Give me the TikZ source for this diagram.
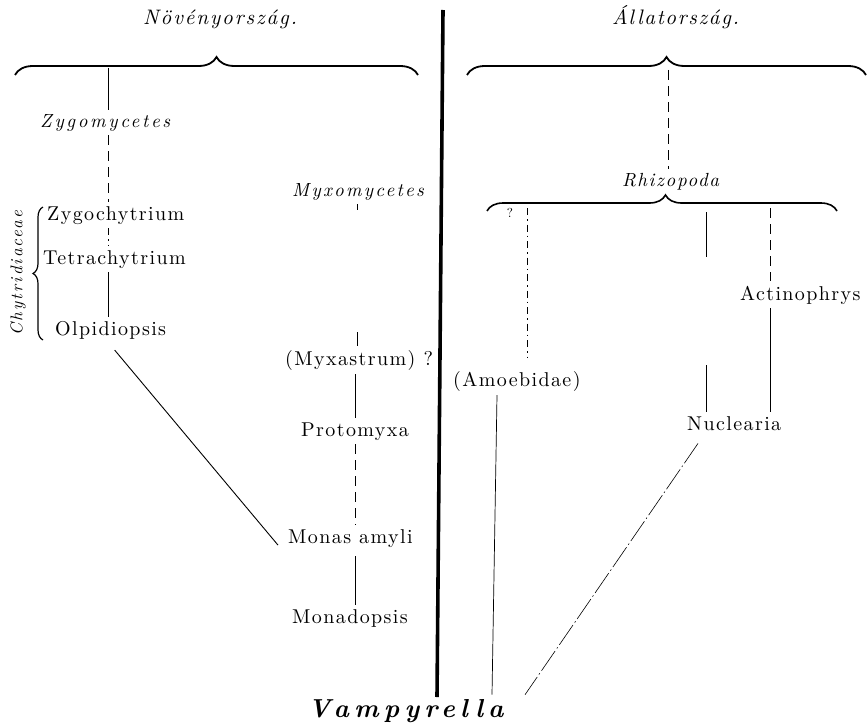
\documentclass[tikz,border=0pt]{standalone}
\usepackage{fontspec}
\setmainfont{lmroman10}[Extension=.otf,UprightFont=*-regular,ItalicFont=*-italic,BoldFont=*-bold,BoldItalicFont=*-bolditalic]
\usetikzlibrary{decorations.pathreplacing,calc}
\begin{document}
\begin{tikzpicture}[x=1pt,y=-1pt,
  rom/.style={anchor=base west,inner sep=4pt,font=\fontsize{20}{24}\selectfont\addfontfeatures{LetterSpace=7}},
  ital/.style={anchor=base west,inner sep=4pt,font=\fontsize{19}{22}\selectfont\itshape\addfontfeatures{LetterSpace=14}},
  ttl/.style={anchor=base west,inner sep=4pt,font=\fontsize{21}{25}\selectfont\itshape\addfontfeatures{LetterSpace=9}},
  solidln/.style={line width=0.7pt},
  dashln/.style={line width=0.6pt,dash pattern=on 10pt off 6pt},
  dotln/.style={line width=0.6pt,dash pattern=on 7pt off 4pt on 1.5pt off 4pt},
  longdash/.style={line width=0.6pt,dash pattern=on 24pt off 3pt on 1.5pt off 3pt},
  bigbrace/.style={line width=1.8pt,decorate,decoration={brace,amplitude=18pt}},
  divider/.style={line width=3.6pt}
]
\useasboundingbox (0,0) rectangle (867,725);

% titles
\node[ttl] (novt) at (139,25) {Növényország.};
\node[ttl,font=\fontsize{21}{25}\selectfont\itshape\addfontfeatures{LetterSpace=8}] (allt) at (608,25) {Állatország.};

% braces
\draw[bigbrace] (15,75) -- (418,75);
\draw[bigbrace] (467,75) -- (866,75);
\draw[line width=1.6pt,decorate,decoration={brace,amplitude=16pt,aspect=0.51}] (487,211) -- (837,211);
\draw[line width=1.2pt,decorate,decoration={brace,amplitude=10pt,aspect=0.5}] (43,340) -- (43,207);

% divider
\draw[divider] (443,10) -- (437,697);

% left side labels
\node[ital] (zygom) at (36,127) {Zygomycetes};
\node[ital,font=\fontsize{19}{22}\selectfont\itshape\addfontfeatures{LetterSpace=12}] (myxom) at (288,196) {Myxomycetes};
\node[rom] (zygoch) at (43,220) {Zygochytrium};
\node[rom] (tetra) at (39,264) {Tetrachytrium};
\node[rom] (olpid) at (51,335) {Olpidiopsis};
\node[rotate=90,inner sep=0pt,font=\fontsize{17}{20}\selectfont\itshape\addfontfeatures{LetterSpace=12}] (chyt) at (18,273) {Chytridiaceae};
\node[rom] (myxa) at (281,365) {(Myxastrum) ?};
\node[rom] (proto) at (297,436) {Protomyxa};
\node[rom] (monas) at (284,543) {Monas amyli};
\node[rom] (monad) at (288,623) {Monadopsis};

% right side labels
\node[ital,font=\fontsize{19}{22}\selectfont\itshape\addfontfeatures{LetterSpace=9}] (rhizo) at (618,186) {Rhizopoda};
\node[inner sep=0pt,font=\fontsize{13}{15}\selectfont] (qm) at (510,213) {?};
\node[rom] (amoeb) at (449,386) {(Amoebidae)};
\node[rom] (actino) at (736,300) {Actinophrys};
\node[rom] (nucl) at (683,430) {Nuclearia};
\node[anchor=base west,inner sep=4pt,font=\fontsize{26}{30}\selectfont\bfseries\itshape\addfontfeatures{LetterSpace=20}] (vamp) at (304,717) {Vampyrella};

% column coordinates and brace points
\coordinate (cA) at (108,0);
\coordinate (cB) at (355,0);
\coordinate (cM) at (357,0);
\coordinate (cR) at (668,0);
\coordinate (cQ) at (527,0);
\coordinate (cD) at (706,0);
\coordinate (cE) at (770,0);
\coordinate (cC1) at (497,0);
\coordinate (cC2) at (492,0);
\coordinate (cN) at (525,0);
\coordinate (bL) at (108,68);
\coordinate (bR) at (668,70);
\coordinate (bQ) at (527,208);
\coordinate (bD) at (706,212);
\coordinate (bE) at (770,208);

% left connectors
\draw[solidln] (bL) -- (cA |- zygom.north);
\draw[dashln] (cA |- zygom.south) -- (cA |- zygoch.north);
\draw[dotln] (cA |- zygoch.south) -- (cA |- tetra.north);
\draw[solidln] (cA |- tetra.south) -- (cA |- olpid.north);
\draw[line width=0.9pt] ([xshift=4pt,yshift=-7pt]olpid.south) -- ([xshift=-6pt,yshift=-7pt]monas.west);
\draw[line width=0.6pt,dash pattern=on 6pt off 122pt on 20pt] (cM |- myxom.south) -- (cM |- myxa.north);
\draw[solidln] (cB |- myxa.south) -- (cB |- proto.north);
\draw[dashln] (cB |- proto.south) -- (cB |- monas.north);
\draw[solidln,shorten <=5pt] (cB |- monas.south) -- (cB |- monad.north);

% right connectors
\draw[dashln] (bR) -- (cR |- rhizo.north);
\draw[dotln,shorten >=10pt] (bQ) -- (cQ |- amoeb.north);
\draw[solidln] (cC1 |- amoeb.south) -- (cC2 |- vamp.north);
\draw[line width=0.6pt,dash pattern=on 45pt off 108pt on 60pt] (bD) -- (cD |- nucl.north);
\draw[dashln] (bE) -- (cE |- actino.north);
\draw[solidln] (cE |- actino.south) -- (cE |- nucl.north);
\draw[longdash] ([xshift=15pt,yshift=-9pt]nucl.south west) -- (cN |- vamp.north);
\end{tikzpicture}
\end{document}
